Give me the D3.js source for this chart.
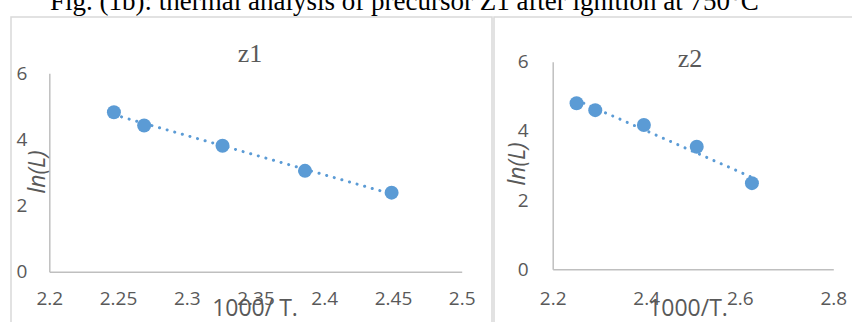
<!DOCTYPE html>
<html>
<head>
<meta charset="utf-8">
<script src="https://cdn.jsdelivr.net/npm/d3@7"></script>
<style>
  body { margin: 0; background: #fff; }
  svg { display: block; }
</style>
</head>
<body>
<div id="chart"></div>
<script>
// values
var z1X = [2.247, 2.269, 2.326, 2.386, 2.449];
var z1Y = [4.82, 4.42, 3.81, 3.05, 2.39];
var z2X = [2.251, 2.291, 2.395, 2.508, 2.626];
var z2Y = [4.80, 4.60, 4.17, 3.54, 2.49];
var z1XTicks = [2.2, 2.25, 2.3, 2.35, 2.4, 2.45, 2.5];
var z2XTicks = [2.2, 2.4, 2.6, 2.8];
var yTicks = [0, 2, 4, 6];
var caption = "Fig. (1b): thermal analysis of precursor Z1 after ignition at 750\u00b0C";

var W = 852, H = 322;
var blue = "#5b9bd5", grey = "#595959", frame = "#d9d9d9";

var svg = d3.select("#chart").append("svg")
  .attr("width", W)
  .attr("height", H);

// caption of the figure, mostly cut off at the top
svg.append("text")
  .attr("x", 50)
  .attr("y", 10)
  .attr("font-family", "'Liberation Serif', 'Times New Roman', serif")
  .attr("font-size", "27px")
  .attr("fill", "#000")
  .text(caption);

// frames round the two charts
svg.append("rect").attr("x", 11).attr("y", 17).attr("width", 481).attr("height", 330)
  .attr("fill", "none").attr("stroke", frame).attr("stroke-width", 1.5);
svg.append("rect").attr("x", 494).attr("y", 17).attr("width", 380).attr("height", 330)
  .attr("fill", "none").attr("stroke", frame).attr("stroke-width", 1.5);

function panel(opt) {
  var x = d3.scaleLinear().domain(opt.xDomain).range([opt.left, opt.right]);
  var y = d3.scaleLinear().domain([0, 6]).range([opt.bottom, opt.top]);
  var g = svg.append("g");

  // x axis
  var gx = g.append("g")
    .attr("transform", "translate(0," + opt.bottom + ")")
    .call(d3.axisBottom(x).tickValues(opt.xTicks).tickSize(0).tickSizeOuter(0)
      .tickPadding(opt.xPad).tickFormat(function (d) { return String(d); }));
  // y axis
  var gy = g.append("g")
    .attr("transform", "translate(" + opt.left + ",0)")
    .call(d3.axisLeft(y).tickValues(yTicks).tickSize(0).tickSizeOuter(0)
      .tickPadding(opt.yPad).tickFormat(function (d) { return String(d); }));

  [gx, gy].forEach(function (a) {
    a.select(".domain").attr("stroke", "#bfbfbf").attr("stroke-width", 1.5);
    a.selectAll("text")
      .attr("fill", grey)
      .attr("font-family", "'Open Sans', sans-serif")
      .attr("font-size", "19px");
  });

  // linear trendline (least squares over the points)
  var pts = opt.xs.map(function (d, i) { return [d, opt.ys[i]]; });
  var mx = d3.mean(opt.xs), my = d3.mean(opt.ys);
  var sxy = d3.sum(pts, function (p) { return (p[0] - mx) * (p[1] - my); });
  var sxx = d3.sum(pts, function (p) { return (p[0] - mx) * (p[0] - mx); });
  var b = sxy / sxx, a0 = my - b * mx;
  var ext = d3.extent(opt.xs);
  g.append("path")
    .datum(ext.map(function (v) { return [v, a0 + b * v]; }))
    .attr("d", d3.line().x(function (d) { return x(d[0]); }).y(function (d) { return y(d[1]); }))
    .attr("fill", "none")
    .attr("stroke", blue)
    .attr("stroke-width", 3)
    .attr("stroke-linecap", "round")
    .attr("stroke-dasharray", "0.1 7.8");

  // points
  g.selectAll("circle")
    .data(pts)
    .enter()
    .append("circle")
    .attr("cx", function (d) { return x(d[0]); })
    .attr("cy", function (d) { return y(d[1]); })
    .attr("r", 7)
    .attr("fill", blue);

  // title
  g.append("text")
    .attr("x", opt.titleX)
    .attr("y", opt.titleY)
    .attr("text-anchor", "middle")
    .attr("font-family", "'Liberation Serif', 'Times New Roman', serif")
    .attr("font-size", "26px")
    .attr("fill", grey)
    .text(opt.title);

  // axis titles
  g.append("text")
    .attr("x", opt.xTitleX)
    .attr("y", 316)
    .attr("text-anchor", "middle")
    .attr("font-family", "'Open Sans', sans-serif")
    .attr("font-size", "23px")
    .attr("fill", grey)
    .text(opt.xTitle);

  g.append("text")
    .attr("transform", "translate(" + opt.yTitleX + "," + opt.yTitleY + ") rotate(-90)")
    .attr("text-anchor", "middle")
    .attr("dominant-baseline", "central")
    .attr("font-family", "'Open Sans', sans-serif")
    .attr("font-style", "italic")
    .attr("font-size", "23px")
    .attr("fill", grey)
    .text("ln(L)");
}

panel({
  xs: z1X, ys: z1Y, xDomain: [2.2, 2.5], xTicks: z1XTicks,
  left: 49.3, right: 461.7, top: 73.3, bottom: 271.7,
  xPad: 20, yPad: 22,
  title: "z1", titleX: 250, titleY: 62,
  xTitle: "1000/ T.", xTitleX: 255,
  yTitleX: 36, yTitleY: 172
});

panel({
  xs: z2X, ys: z2Y, xDomain: [2.2, 2.8], xTicks: z2XTicks,
  left: 552.7, right: 833.3, top: 61.7, bottom: 269.3,
  xPad: 22, yPad: 24,
  title: "z2", titleX: 690, titleY: 67,
  xTitle: "1000/T.", xTitleX: 688,
  yTitleX: 516, yTitleY: 164
});
</script>
</body>
</html>
